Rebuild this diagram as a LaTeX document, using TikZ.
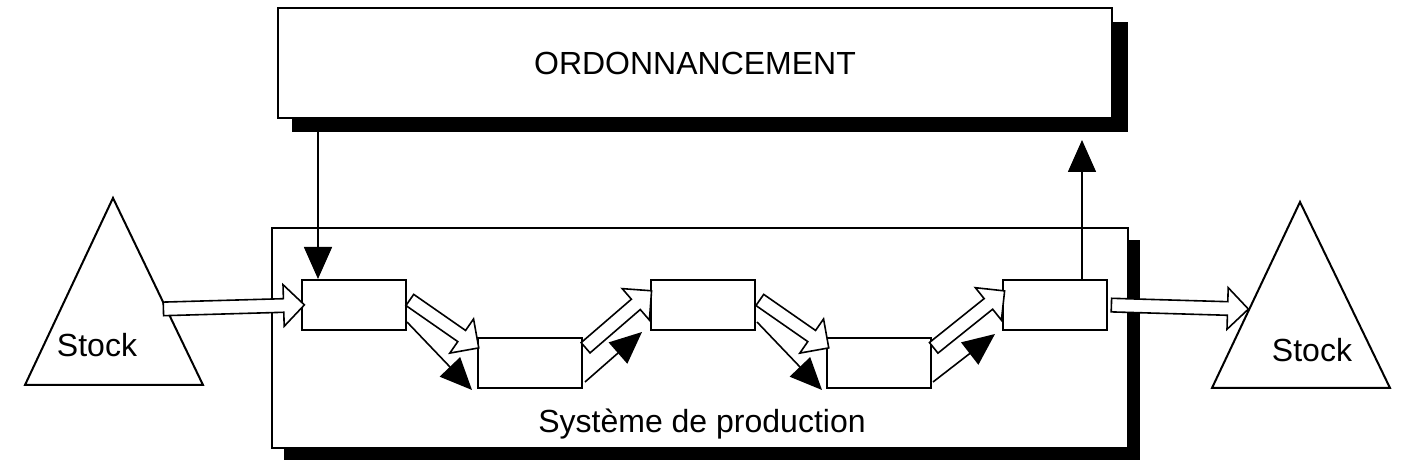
\documentclass[tikz,border=0pt]{standalone}
\usepackage{fontspec}
\setmainfont{Liberation Sans}
\usetikzlibrary{arrows.meta,shapes.arrows,calc}
\begin{document}
\begin{tikzpicture}[x=0.5pt,y=-0.5pt,
  box/.style={draw,line width=1pt,fill=white},
  shadow/.style={fill=black},
  cell/.style={draw,line width=1pt,fill=white,minimum width=52pt,minimum height=25pt,inner sep=0pt},
  hollow/.style={single arrow,draw,line width=0.8pt,fill=white,inner sep=3pt,minimum width=5pt,single arrow head extend=7pt,single arrow head indent=0pt,outer sep=0pt},
  blk/.style={line width=0.8pt,-{Triangle[length=16pt,width=14pt]}},
  txt/.style={font=\fontsize{16}{18}\selectfont}]
\useasboundingbox (0,0) rectangle (1415,474);
\newcommand{\harrow}[2]{\path let \p1=(#1), \p2=(#2), \n1={atan2(\y2-\y1,\x2-\x1)}, \n2={veclen(\x2-\x1,\y2-\y1)} in node[hollow,minimum height=\n2,rotate=\n1] at ($(#1)!0.5!(#2)$) {};}
% top box
\fill[shadow] (292,22) rectangle (1128,132);
\draw[box] (278,8) rectangle (1112,118);
\node[txt] (ord) at (695,63) {ORDONNANCEMENT};
% system box
\fill[shadow] (284,240) rectangle (1140,460);
\draw[box] (272,228) rectangle (1128,448);
\node[txt] (sys) at (702,424) {Système de production};
% stocks
\draw[line width=1pt,fill=white] (113,198) -- (203,385) -- (25,385) -- cycle;
\node[txt] (s1) at (97,345) {Stock};
\draw[line width=1pt,fill=white] (1300,202) -- (1390,388) -- (1212,388) -- cycle;
\node[txt] (s2) at (1312,350) {Stock};
% cells
\node[cell] (b1) at (354,305) {};
\node[cell] (b2) at (530,363) {};
\node[cell] (b3) at (703,305) {};
\node[cell] (b4) at (879,363) {};
\node[cell] (b5) at (1055,305) {};
% vertical arrows
\coordinate (d0) at (318,118);
\draw[blk] (d0) -- (b1.north -| d0);
\coordinate (u0) at (1082,140);
\draw[blk] (b5.north -| u0) -- (u0);
% hollow in/out
\coordinate (i0) at (160,309);
\harrow{i0}{b1.west}
\coordinate (o0) at (1245,309);
\harrow{b5.east}{o0}
% diagonal connections
\coordinate (a1) at (407,298); \coordinate (a2) at (476,346);
\harrow{a1}{a2}
\coordinate (c1) at (407,322); \coordinate (c2) at (472,390);
\draw[blk] (c1) -- (c2);
\coordinate (a3) at (583,350); \coordinate (a4) at (649,293);
\harrow{a3}{a4}
\coordinate (c3) at (585,382); \coordinate (c4) at (642,332);
\draw[blk] (c3) -- (c4);
\coordinate (a5) at (757,298); \coordinate (a6) at (826,346);
\harrow{a5}{a6}
\coordinate (c5) at (757,322); \coordinate (c6) at (822,390);
\draw[blk] (c5) -- (c6);
\coordinate (a7) at (931,350); \coordinate (a8) at (1002,293);
\harrow{a7}{a8}
\coordinate (c7) at (933,382); \coordinate (c8) at (995,334);
\draw[blk] (c7) -- (c8);
\end{tikzpicture}
\end{document}
